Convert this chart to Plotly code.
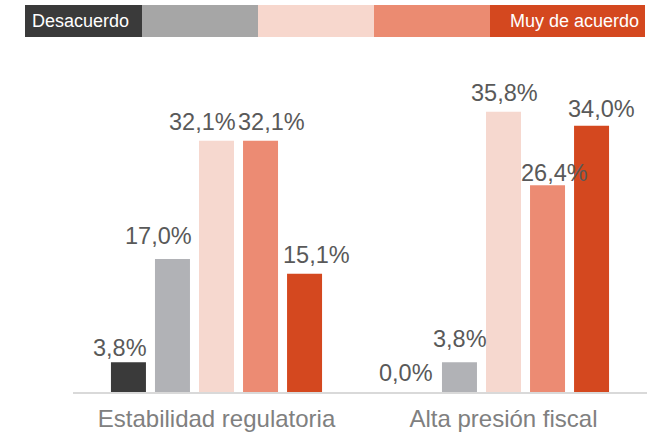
import plotly.graph_objects as go

categories = ["Estabilidad regulatoria", "Alta presión fiscal"]
series_names = ["Desacuerdo", "2", "3", "4", "Muy de acuerdo"]
values = [
    [3.8, 0.0],    # Desacuerdo
    [17.0, 3.8],   # 2
    [32.1, 35.8],  # 3
    [32.1, 26.4],  # 4
    [15.1, 34.0],  # Muy de acuerdo
]
legend_left_label = "Desacuerdo"
legend_right_label = "Muy de acuerdo"

bar_colors = ["#3a3a3a", "#b1b2b6", "#f6d8cf", "#ec8b73", "#d4481f"]
legend_colors = ["#3a3a3a", "#a6a6a6", "#f7d7cd", "#eb8b71", "#d4481f"]

# manual label nudges (pixels), per series per category
label_dx = [[-8, -9], [-14, 1], [-14, 1], [11, 7], [12, 10]]
label_dy = [[-5, 0], [4, 4], [0, 0], [0, -7], [0, -2]]

W, H = 659, 435
L, R, T, B = 73, 647, 60, 392
bargap = 0.233
bargroupgap = 0.205
yscale_top = (B - T) / 7.83


def px_x(p):
    return (p - L) / (R - L)


def px_y(p):
    return (B - p) / (B - T)


fig = go.Figure()
for k, name in enumerate(series_names):
    fig.add_trace(go.Bar(
        x=categories, y=values[k], name=name,
        marker=dict(color=bar_colors[k], line=dict(width=0)),
        hoverinfo="skip",
    ))

n = len(series_names)
slot = (1 - bargap) / n
annotations = []
for k in range(n):
    for i, v in enumerate(values[k]):
        annotations.append(dict(
            x=i + (k - (n - 1) / 2) * slot, y=v, xref="x", yref="y",
            text=f"{v:.1f}".replace(".", ",") + "%",
            showarrow=False, yanchor="bottom", xanchor="center",
            xshift=label_dx[k][i], yshift=4 + label_dy[k][i],
            font=dict(family="Liberation Sans, Arial", size=23.5, color="#595959"),
        ))

# legend strip
edges = [25, 142, 258, 374, 490, 645]
shapes = []
for k in range(n):
    shapes.append(dict(
        type="rect", xref="paper", yref="paper",
        x0=px_x(edges[k]), x1=px_x(edges[k + 1]),
        y0=px_y(37), y1=px_y(5),
        fillcolor=legend_colors[k], line=dict(width=0), layer="above",
    ))
annotations.append(dict(
    x=px_x(30), y=px_y(21), xref="paper", yref="paper",
    text=legend_left_label, showarrow=False, xanchor="left", yanchor="middle",
    font=dict(family="Liberation Sans, Arial", size=18, color="#ffffff"),
))
annotations.append(dict(
    x=px_x(641), y=px_y(21), xref="paper", yref="paper",
    text=legend_right_label, showarrow=False, xanchor="right", yanchor="middle",
    font=dict(family="Liberation Sans, Arial", size=18, color="#ffffff"),
))

fig.update_layout(
    width=W, height=H,
    margin=dict(l=L, r=W - R, t=T, b=H - B, autoexpand=False),
    paper_bgcolor="white", plot_bgcolor="white",
    barmode="group", bargap=bargap, bargroupgap=bargroupgap,
    showlegend=False,
    shapes=shapes, annotations=annotations,
    xaxis=dict(
        type="category", range=[-0.5, 1.5], automargin=False,
        showline=True, linecolor="#d9d9d9", linewidth=2,
        showgrid=False, ticks="",
        tickfont=dict(family="Liberation Sans, Arial", size=24, color="#808080"),
        ticklabelstandoff=4,
    ),
    yaxis=dict(
        range=[0, yscale_top], visible=False, showgrid=False, zeroline=False,
        automargin=False,
    ),
)

fig.write_html(
    "out.html",
    config={"displayModeBar": False},
    post_script="document.body.style.margin='0';document.body.style.overflow='hidden';",
)
